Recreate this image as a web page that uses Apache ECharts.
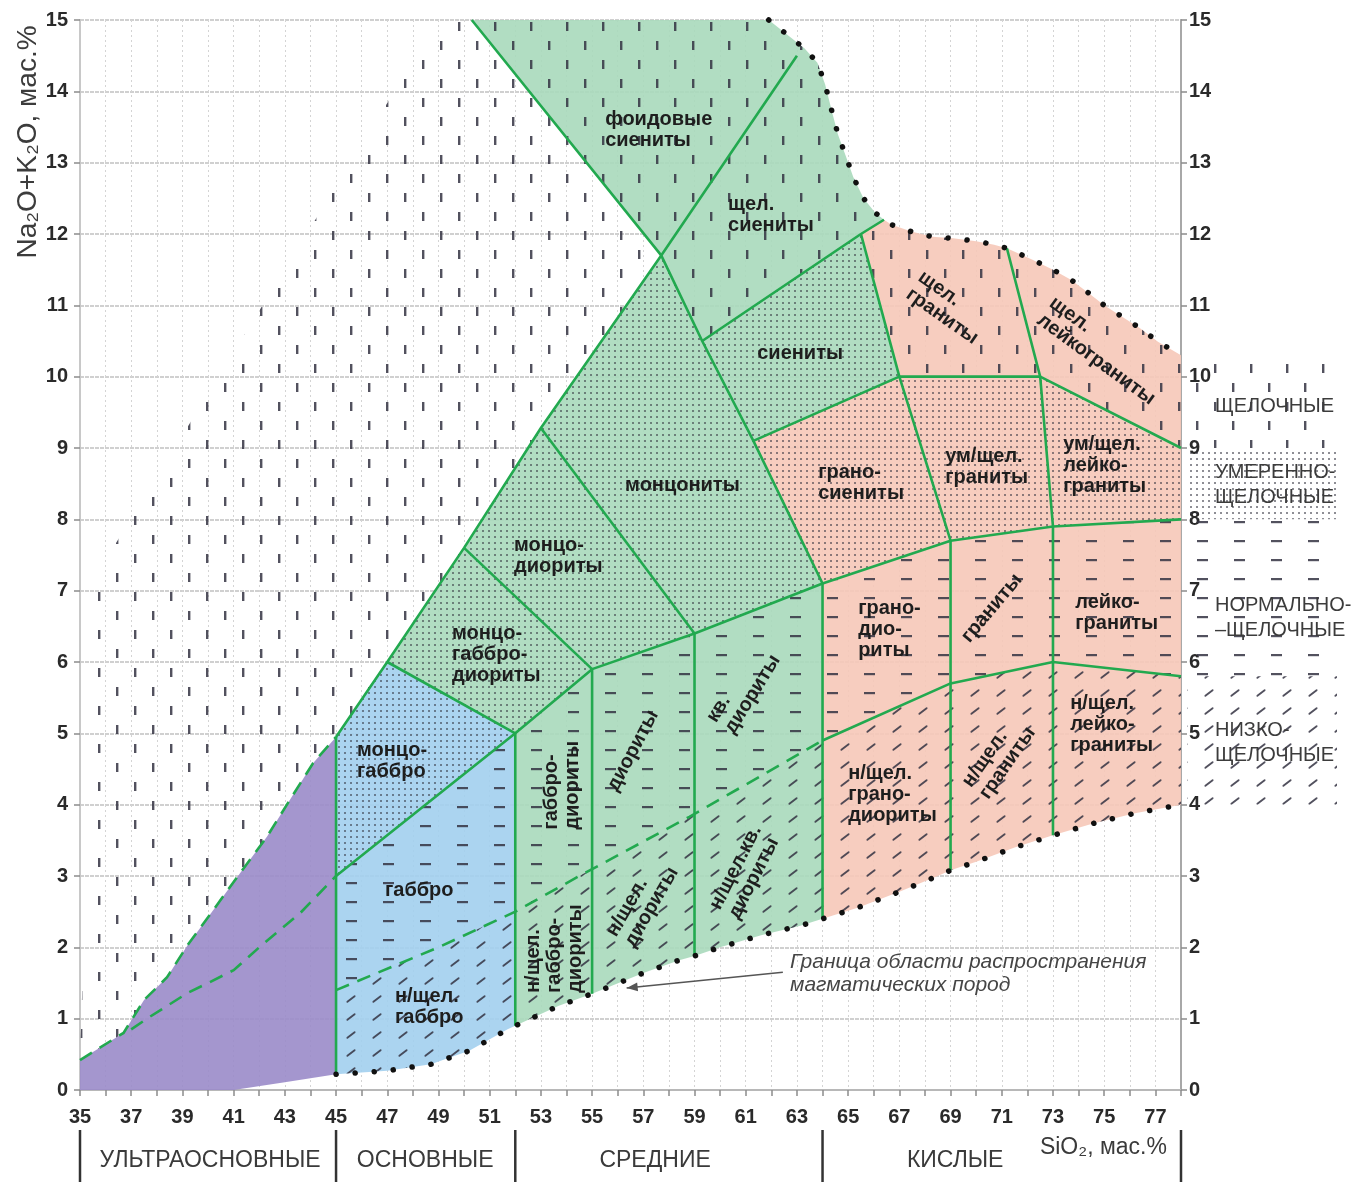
<!DOCTYPE html>
<html lang="ru">
<head>
<meta charset="utf-8">
<title>Классификация магматических пород (SiO2 – Na2O+K2O)</title>
<script src="https://cdn.jsdelivr.net/npm/echarts@6/dist/echarts.min.js"></script>
<style>
html,body{margin:0;padding:0;background:#fff;}
#chart{width:1359px;height:1182px;}
</style>
</head>
<body>
<div id="chart"></div>
<script>
// ---------- axis extents ----------
const silicaRange = [35, 78];
const alkaliRange = [0, 15];

// ---------- nodes of the classification grid [SiO2, Na2O+K2O], wt.% ----------
const vTop45 = [45, 4.95];
const vMg45 = [45, 3.0];
const vE = [47, 6.0];
const vC = [50, 7.6];
const vA = [53, 9.28];
const vT = [57.7, 11.7];
const vI = [59.3, 10.5];
const vH = [61.3, 9.1];
const vG = [64, 7.1];
const vJ = [65.5, 12.0];
const vJ2 = [66.4, 12.2];
const vK = [67, 10.0];
const vL = [69, 7.7];
const vM = [72.5, 10.0];
const vN = [71.2, 11.8];
const vO = [73, 7.9];
const vP = [69, 5.7];
const vQ = [73, 6.0];
const vR = [64, 4.9];
const vB = [59, 6.4];
const vD = [55, 5.9];
const vF = [52, 5.0];
const edgeAlk = [78, 9.0];
const edgeMod = [78, 8.0];
const edgeNorm = [78, 5.8];

// ---------- limits of igneous rock compositions (dotted) ----------
const upperLimit = [[61.9,15],[62.6,14.8],[63.3,14.6],[63.8,14.4],[64.1,14.1],[64.4,13.67],[64.6,13.4],[64.9,13.1],[65.2,12.8],[65.6,12.5],[66.05,12.3],[66.4,12.2],[66.7,12.13],[67.5,12.03],[68.3,11.96],[69.1,11.94],[70,11.9],[70.7,11.85],[71.2,11.8],[72.2,11.64],[73,11.5],[73.7,11.36],[74.4,11.17],[75,11.0],[75.7,10.84],[76.4,10.68],[77.1,10.49],[78,10.3]];
const lowerLimit = [[45,0.22],[47,0.27],[48.7,0.36],[50.2,0.55],[51.7,0.85],[52,0.9],[53.7,1.18],[55,1.35],[57,1.64],[58.4,1.82],[59,1.88],[60,2.0],[61.6,2.17],[63.1,2.3],[64,2.4],[65.4,2.56],[67,2.78],[68.5,3.0],[69,3.08],[70,3.2],[71.5,3.4],[73,3.57],[74.6,3.74],[76.2,3.88],[78,4.0]];

// ---------- dashed boundaries ----------
const ultrabasicUpper = [[35,0.42],[36.7,0.8],[37.5,1.26],[38.4,1.58],[39.2,2.03],[40.2,2.52],[41.25,3.04],[42.3,3.55],[43.2,4.07],[44.1,4.58],[45,4.95]];
const ultrabasicLower = [[37,0.85],[37.7,1.02],[39.2,1.36],[40,1.5],[41,1.68],[42,2.0],[43.6,2.48],[45,3.0]];
const lowAlkaliLine = [[45,1.4],[49,2.0],[52,2.5],[54.5,3.0],[58.8,3.83],[62.7,4.63],vR];

// outer alkaline limit of the series and the foid line
const outerDiagonal = [vTop45, vE, vC, vA, vT, [63.0, 14.5]];
const foidLine = [[50.3, 15], vT, vI, vH, vG];
// left edge of the hatched field in the empty area
const hatchEdge = [[49, 15], [35.6, 7.2]];

const inRange = (a, b) => p => p[0] >= a && p[0] <= b;
const rev = arr => arr.slice().reverse();

// ---------- coloured rock-group fields ----------
const ultrabasicField = [[35,0], ...ultrabasicUpper, [45,0.22], [43,0.11], [41,0]];
const basicField = [vTop45, vE, vF, ...rev(lowerLimit.filter(inRange(45, 52)))];
const intermediateField = [[50.3,15], ...upperLimit.filter(inRange(0, 66.4)), vJ, vK, vH, vG, vR,
  ...rev(lowerLimit.filter(inRange(52, 64))), vF, vE, vC, vA, vT];
const acidField = [...upperLimit.filter(inRange(66.4, 78)), ...rev(lowerLimit.filter(inRange(64, 78))),
  vR, vG, vH, vK, vJ];
const rockFields = [ultrabasicField, basicField, intermediateField, acidField];

// ---------- alkalinity series fields ----------
const alkalineZone = [...ultrabasicUpper, vE, vC, vA, vT, vI, vJ, vK, vM, edgeAlk, ...rev(upperLimit), ...hatchEdge];
const moderateZone = [vMg45, vTop45, vE, vC, vA, vT, vI, vJ, vK, vM, edgeAlk, edgeMod, vO, vL, vG, vB, vD, vF];
const normalZone = [vMg45, vF, vD, vB, vG, vL, vO, edgeMod, edgeNorm, vQ, vP, ...rev(lowAlkaliLine)];
const lowZone = [...lowAlkaliLine, vP, vQ, edgeNorm, ...rev(lowerLimit.filter(inRange(45, 78)))];
const alkalinityZones = [alkalineZone, moderateZone, normalZone, lowZone];

// ---------- boundary lines ----------
const solidBoundaries = [
  outerDiagonal, foidLine,
  [vI, vJ, vJ2],
  [vJ, vK, vL, vP, [69, 3.08]],
  [vH, vK, vM, edgeAlk],
  [vN, vM, vO, vQ, [73, 3.57]],
  [vMg45, vF, vD, vB, vG, vL, vO, edgeMod],
  [vR, vP, vQ, edgeNorm],
  [vA, vB], [vC, vD], [vE, vF],
  [[45, 0.22], vTop45],
  [vF, [52, 0.9]], [vD, [55, 1.35]], [vB, [59, 1.88]], [vG, [64, 2.4]]
];
const dashedBoundaries = [ultrabasicUpper, ultrabasicLower, lowAlkaliLine];
const dottedBoundaries = [upperLimit, lowerLimit];

// ---------- rock names ----------
const rockNames = ['фоидовые\nсиениты','щел.\nсиениты','сиениты','монцониты','монцо-\nдиориты','монцо-\nгаббро-\nдиориты',
  'монцо-\nгаббро','габбро','н/щел.\nгаббро','габбро-\nдиориты','н/щел.\nгаббро-\nдиориты','диориты','н/щел.\nдиориты',
  'кв.\nдиориты','н/щел.кв.\nдиориты','грано-\nсиениты','ум/щел.\nграниты','ум/щел.\nлейко-\nграниты','щел.\nграниты',
  'щел.\nлейкограниты','грано-\nдио-\nриты','граниты','лейко-\nграниты','н/щел.\nграно-\nдиориты','н/щел.\nграниты',
  'н/щел.\nлейко-\nграниты'];
const rockLabelAt = [[55.51,13.46],[60.31,12.27],[61.45,10.33],[56.29,8.48],[51.95,7.49],[49.53,6.10],
  [45.82,4.61],[46.91,2.80],[47.3,1.16],[53.83,3.65],[53.55,1.36],[55.78,4.21],[56.1,2.10],
  [60.0,5.10],[60.16,2.48],[63.83,8.51],[68.79,8.73],[73.4,8.75],[67.58,11.3],
  [72.7,10.94],[65.39,6.45],[69.57,6.31],[73.87,6.69],[65.0,4.14],[69.96,4.19],
  [73.67,5.12]];
const rockLabelAngle = [0,0,0,0,0,0,0,0,0,90,90,62,60,58,63,0,0,0,-35,-36,0,50,0,0,55,0];

// ---------- note on the limit line ----------
const noteText = 'Граница области распространения\nмагматических пород';
const noteAt = [62.73, 1.63];
const noteArrow = [[62.45, 1.65], [56.35, 1.43]];

// ---------- silica groups and alkalinity series ----------
const groupBounds = [35, 45, 52, 64, 78];
const groupNames = ['УЛЬТРАОСНОВНЫЕ', 'ОСНОВНЫЕ', 'СРЕДНИЕ', 'КИСЛЫЕ'];
const groupLabelX = [40.08, 48.48, 57.46, 69.18];
const alkalinityNames = ['ЩЕЛОЧНЫЕ', 'УМЕРЕННО-\nЩЕЛОЧНЫЕ', 'НОРМАЛЬНО-\n–ЩЕЛОЧНЫЕ', 'НИЗКО-\nЩЕЛОЧНЫЕ'];
const alkalinityBounds = [10.3, 9.0, 8.0, 5.8, 4.0];
const alkalinityLabelY = [9.58, 8.48, 6.62, 4.86];

// ================= styling =================
const FONT = '"Liberation Sans", Arial, "DejaVu Sans", sans-serif';
const fieldColors = ['#9a8bc9', '#a2cfee', '#a9d9bb', '#f6c8b8'];
const lineGreen = '#22a94f';
const ink = 'rgba(52,50,66,0.85)';

function tile(w, h, paint) {
  const c = document.createElement('canvas');
  c.width = w; c.height = h;
  paint(c.getContext('2d'));
  return c;
}
// vertical strokes — alkaline series
const vDashTile = tile(36, 38, g => { g.fillStyle = ink; g.fillRect(8, 3, 2.4, 9); g.fillRect(26, 22, 2.4, 9); });
// dot grid — moderately alkaline series
const stippleTile = tile(6, 6, g => { g.fillStyle = 'rgba(50,50,62,0.55)'; g.fillRect(2, 2, 2, 2); });
// horizontal strokes — normal series
const hDashTile = tile(37, 19, g => { g.fillStyle = ink; g.fillRect(13, 8, 11, 2.2); });
// oblique strokes — low-alkali series
const slashTile = tile(26, 18, g => {
  g.strokeStyle = ink; g.lineWidth = 1.9; g.lineCap = 'round';
  g.beginPath();
  g.moveTo(9.4, 11.8); g.lineTo(16.6, 6.2);
  g.stroke();
});
const zoneTiles = [vDashTile, stippleTile, hDashTile, slashTile];
const pattern = img => ({ image: img, repeat: 'repeat' });

function polygonLayer(polys, styleOf, z) {
  return {
    type: 'custom', coordinateSystem: 'cartesian2d', silent: true, z, animation: false,
    data: polys.map(p => p[0]),
    renderItem(params, api) {
      const pts = polys[params.dataIndex].map(p => api.coord(p));
      return { type: 'polygon', shape: { points: pts }, style: styleOf(params.dataIndex) };
    }
  };
}
function polylineLayer(lines, style, z) {
  return {
    type: 'custom', coordinateSystem: 'cartesian2d', silent: true, z, animation: false,
    data: lines.map(l => l[0]),
    renderItem(params, api) {
      const pts = lines[params.dataIndex].map(p => api.coord(p));
      return { type: 'polyline', shape: { points: pts }, style: Object.assign({ fill: 'none' }, style) };
    }
  };
}

const chart = echarts.init(document.getElementById('chart'), null, { renderer: 'canvas' });

const option = {
  animation: false,
  backgroundColor: '#fff',
  grid: { left: 80, right: 178, top: 20, bottom: 92, containLabel: false },
  xAxis: {
    type: 'value', min: silicaRange[0], max: silicaRange[1], interval: 1,
    axisLine: { show: true, onZero: false, lineStyle: { color: '#b8b8b8', width: 2 } },
    axisTick: { show: true, length: 6, lineStyle: { color: '#8c8c8c', width: 1.5 } },
    axisLabel: { margin: 17, color: '#2a2a2a', fontSize: 20, fontWeight: 'bold', fontFamily: FONT,
      formatter: v => (v % 2 === 1 ? String(v) : '') },
    splitLine: { show: true, lineStyle: { color: '#d4d4d4', width: 1, type: [2, 3] } }
  },
  yAxis: [
    {
      type: 'value', min: alkaliRange[0], max: alkaliRange[1], interval: 1, position: 'left',
      axisLine: { show: true, onZero: false, lineStyle: { color: '#c8c8c8', width: 2 } },
      axisTick: { show: true, length: 6, lineStyle: { color: '#8c8c8c', width: 1.5 } },
      axisLabel: { margin: 12, color: '#2a2a2a', fontSize: 20, fontWeight: 'bold', fontFamily: FONT },
      splitLine: { show: true, lineStyle: { color: '#d0d0d0', width: 2, type: [4, 1] } }
    },
    {
      type: 'value', min: alkaliRange[0], max: alkaliRange[1], interval: 1, position: 'right',
      axisLine: { show: true, onZero: false, lineStyle: { color: '#a8a8a8', width: 2 } },
      axisTick: { show: true, length: 6, lineStyle: { color: '#8c8c8c', width: 1.5 } },
      axisLabel: { margin: 8, color: '#2a2a2a', fontSize: 20, fontWeight: 'bold', fontFamily: FONT },
      splitLine: { show: false }
    }
  ],
  series: [
    // coloured fields
    polygonLayer(rockFields, i => ({ fill: fieldColors[i], opacity: 0.9 }), 2),
    // alkalinity hatching
    polygonLayer(alkalinityZones, i => ({ fill: pattern(zoneTiles[i]) }), 3),
    // boundaries
    polylineLayer(solidBoundaries, { stroke: lineGreen, lineWidth: 2.6, lineJoin: 'round' }, 4),
    polylineLayer(dashedBoundaries, { stroke: lineGreen, lineWidth: 2.6, lineDash: [14, 9] }, 4),
    polylineLayer(dottedBoundaries, { stroke: '#111', lineWidth: 5.5, lineDash: [0.1, 19], lineCap: 'round' }, 5),
    // rock names
    {
      type: 'custom', coordinateSystem: 'cartesian2d', silent: true, z: 6, animation: false,
      data: rockLabelAt,
      renderItem(params, api) {
        const i = params.dataIndex;
        const p = api.coord(rockLabelAt[i]);
        return {
          type: 'text', x: p[0], y: p[1], rotation: rockLabelAngle[i] * Math.PI / 180,
          style: { text: rockNames[i], font: 'bold 20px ' + FONT, fill: '#1e1e1e',
            align: 'left', verticalAlign: 'middle', lineHeight: 21 }
        };
      }
    },
    // note with arrow
    {
      type: 'custom', coordinateSystem: 'cartesian2d', silent: true, z: 6, animation: false,
      data: [noteAt],
      renderItem(params, api) {
        const p = api.coord(noteAt);
        const a = api.coord(noteArrow[0]);
        const b = api.coord(noteArrow[1]);
        const ang = Math.atan2(b[1] - a[1], b[0] - a[0]);
        const s = 11, w = 4.5;
        const head = [
          b,
          [b[0] - s * Math.cos(ang) + w * Math.sin(ang), b[1] - s * Math.sin(ang) - w * Math.cos(ang)],
          [b[0] - s * Math.cos(ang) - w * Math.sin(ang), b[1] - s * Math.sin(ang) + w * Math.cos(ang)]
        ];
        return {
          type: 'group',
          children: [
            { type: 'line', shape: { x1: a[0], y1: a[1], x2: b[0], y2: b[1] },
              style: { stroke: '#555', lineWidth: 1.6 } },
            { type: 'polygon', shape: { points: head }, style: { fill: '#555' } },
            { type: 'text', x: p[0], y: p[1],
              style: { text: noteText, font: 'italic 21px ' + FONT, fill: '#454545',
                align: 'left', verticalAlign: 'middle', lineHeight: 23 } }
          ]
        };
      }
    }
  ]
};
chart.setOption(option);

// ---------- annotations around the plot ----------
const toPx = (x, y) => chart.convertToPixel({ gridIndex: 0 }, [x, y]);
const graphics = [];

// axis title
graphics.push({
  type: 'text', x: 28, y: 142, rotation: Math.PI / 2,
  style: { text: 'Na\u2082O+K\u2082O, мас.%', font: '28px ' + FONT, fill: '#3c3c3c',
    align: 'center', verticalAlign: 'middle' }
});

// silica groups below the axis
groupBounds.forEach(x => {
  const px = toPx(x, 0)[0];
  graphics.push({ type: 'line', shape: { x1: px, y1: 1130, x2: px, y2: 1182 },
    style: { stroke: '#333', lineWidth: 2.5 } });
});
groupNames.forEach((name, i) => {
  graphics.push({ type: 'text', x: toPx(groupLabelX[i], 0)[0], y: 1161,
    style: { text: name, font: '23px ' + FONT, fill: '#3a3a3a', align: 'center', verticalAlign: 'middle' } });
});
graphics.push({ type: 'text', x: toPx(77.45, 0)[0], y: 1148,
  style: { text: 'SiO\u2082, мас.%', font: '23px ' + FONT, fill: '#3a3a3a', align: 'right', verticalAlign: 'middle' } });

// alkalinity series key on the right
alkalinityNames.forEach((name, i) => {
  const y0 = toPx(78, alkalinityBounds[i])[1];
  const y1 = toPx(78, alkalinityBounds[i + 1])[1];
  graphics.push({ type: 'rect', shape: { x: 1187, y: y0, width: 150, height: y1 - y0 },
    style: { fill: pattern(zoneTiles[i]) }, z: 1 });
  graphics.push({ type: 'text', x: 1215, y: toPx(78, alkalinityLabelY[i])[1], z: 2,
    style: { text: name, font: '20px ' + FONT, fill: '#3c3c3c', align: 'left', verticalAlign: 'middle', lineHeight: 25 } });
});

chart.setOption({ graphic: graphics });
</script>
</body>
</html>
